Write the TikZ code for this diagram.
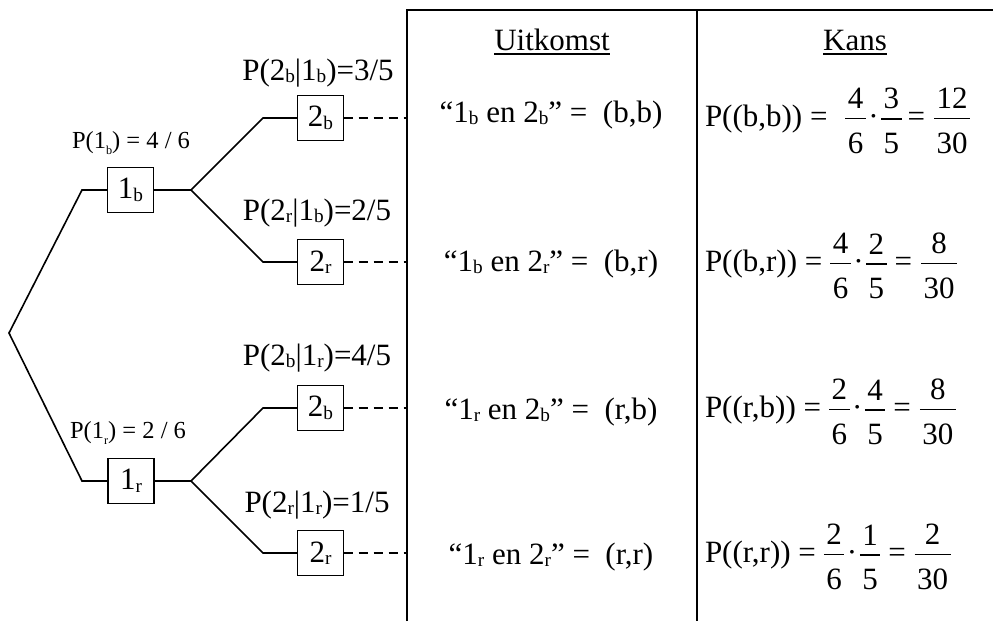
\documentclass[tikz,border=0pt]{standalone}
\usepackage{fontspec}
\setmainfont{Liberation Serif}
\usepackage{graphicx}
\newcommand\sbx[1]{\raisebox{-2.5pt}{\scalebox{0.62}{#1}}}
\newcommand\sbs[1]{\raisebox{-6pt}{\scalebox{0.5}{#1}}}
\newcommand\ulx[1]{\setbox0\hbox{#1}\vtop{\copy0\kern3pt\hrule height 1.6pt width\wd0}}
\newbox\fnumbox \newbox\fdenbox \newdimen\fwdim
\newcommand\myfrac[2]{%
 \setbox\fnumbox\hbox{\kern2.5pt#1\kern2.5pt}\setbox\fdenbox\hbox{\kern2.5pt#2\kern2.5pt}%
 \ifdim\wd\fnumbox>\wd\fdenbox \fwdim=\wd\fnumbox \else \fwdim=\wd\fdenbox \fi
 \lower27pt\vbox{\offinterlineskip\hbox to\fwdim{\hss\box\fnumbox\hss}\kern9pt\hrule height1.5pt\kern13pt\hbox to\fwdim{\hss\box\fdenbox\hss}}}
\newcommand\mdot{\kern2.5pt·\kern2.5pt}
\begin{document}
\begin{tikzpicture}[x=1pt,y=-1pt,
  every node/.style={inner sep=0pt, outer sep=0pt},
  ln/.style={line width=1.6pt},
  col/.style={line width=2pt},
  bx/.style={draw, line width=1.6pt, minimum width=46pt, minimum height=45pt, font=\fontsize{31}{37}\selectfont},
  dsh/.style={line width=1.6pt, dash pattern=on 9pt off 6pt},
  lbl/.style={font=\fontsize{31}{37}\selectfont},
  slbl/.style={font=\fontsize{24.5}{29}\selectfont},
  txt/.style={font=\fontsize{31}{37}\selectfont}]
\useasboundingbox (0,0) rectangle (993,621);
% columns
\coordinate (T1) at (407,9.5); \coordinate (T2) at (993,9.5);
\coordinate (B1) at (407,621);
\coordinate (T3) at (696.5,9.5); \coordinate (B3) at (696.5,621);
\draw[col] (B1) -- (T1) -- (T2);
\draw[col] (T3) -- (B3);
% tree
\coordinate (R) at (9,333);
\coordinate (A1) at (82,190); \coordinate (A2) at (82,481);
\coordinate (F1) at (191,190); \coordinate (F2) at (191,481);
\coordinate (C1) at (263,118); \coordinate (C2) at (263,262);
\coordinate (C3) at (263,408); \coordinate (C4) at (263,553);
\coordinate (E1) at (406,118); \coordinate (E2) at (406,262);
\coordinate (E3) at (406,408); \coordinate (E4) at (406,553);
\node[bx] (n1b) at (130.5,190) {1\sbx{b}};
\node[bx] (n1r) at (131,481) {1\sbx{r}};
\node[bx] (n2bb) at (320.5,118) {2\sbx{b}};
\node[bx] (n2rb) at (320.5,262) {2\sbx{r}};
\node[bx] (n2br) at (320.5,408) {2\sbx{b}};
\node[bx] (n2rr) at (320.5,553) {2\sbx{r}};
\draw[ln] (n1b) -- (A1) -- (R) -- (A2) -- (n1r);
\draw[ln] (n1b) -- (F1) -- (C1) -- (n2bb);
\draw[ln] (F1) -- (C2) -- (n2rb);
\draw[ln] (n1r) -- (F2) -- (C3) -- (n2br);
\draw[ln] (F2) -- (C4) -- (n2rr);
\draw[dsh] (n2bb) -- (E1);
\draw[dsh] (n2rb) -- (E2);
\draw[dsh] (n2br) -- (E3);
\draw[dsh] (n2rr) -- (E4);
% branch labels
\node[slbl] (l1) at (131,143) {P(1\sbs{b}) = 4 / 6};
\node[slbl] (l5) at (128,433) {P(1\sbs{r}) = 2 / 6};
\node[lbl] (l2) at (318,73) {P(2\sbx{b}|1\sbx{b})=3/5};
\node[lbl] (l3) at (317,213) {P(2\sbx{r}|1\sbx{b})=2/5};
\node[lbl] (l4) at (317,358) {P(2\sbx{b}|1\sbx{r})=4/5};
\node[lbl] (l6) at (317,505) {P(2\sbx{r}|1\sbx{r})=1/5};
% headers
\node[txt, anchor=base] (h1) at (552,50) {\ulx{Uitkomst}};
\node[txt, anchor=base] (h2) at (855,50) {\ulx{Kans}};
% outcomes
\node[txt, anchor=base] (o1) at (551,122) {“1\sbx{b} en 2\sbx{b}” = \ (b,b)};
\node[txt, anchor=base] (o2) at (551,271) {“1\sbx{b} en 2\sbx{r}” = \ (b,r)};
\node[txt, anchor=base] (o3) at (551,419) {“1\sbx{r} en 2\sbx{b}” = \ (r,b)};
\node[txt, anchor=base] (o4) at (551,564) {“1\sbx{r} en 2\sbx{r}” = \ (r,r)};
% probabilities
\node[txt, anchor=base west] (p1) at (705,126) {P((b,b)) = \kern10pt\myfrac{4}{6}\mdot\myfrac{3}{5}\kern6pt=\kern9pt\myfrac{12}{30}};
\node[txt, anchor=base west] (p2) at (705,271) {P((b,r)) =\kern8pt\myfrac{4}{6}\mdot\myfrac{2}{5}\kern8pt=\kern9pt\myfrac{8}{30}};
\node[txt, anchor=base west] (p3) at (705,417) {P((r,b)) =\kern8pt\myfrac{2}{6}\mdot\myfrac{4}{5}\kern8pt=\kern9pt\myfrac{8}{30}};
\node[txt, anchor=base west] (p4) at (705,562) {P((r,r)) =\kern8pt\myfrac{2}{6}\mdot\myfrac{1}{5}\kern8pt=\kern9pt\myfrac{2}{30}};
\end{tikzpicture}
\end{document}
